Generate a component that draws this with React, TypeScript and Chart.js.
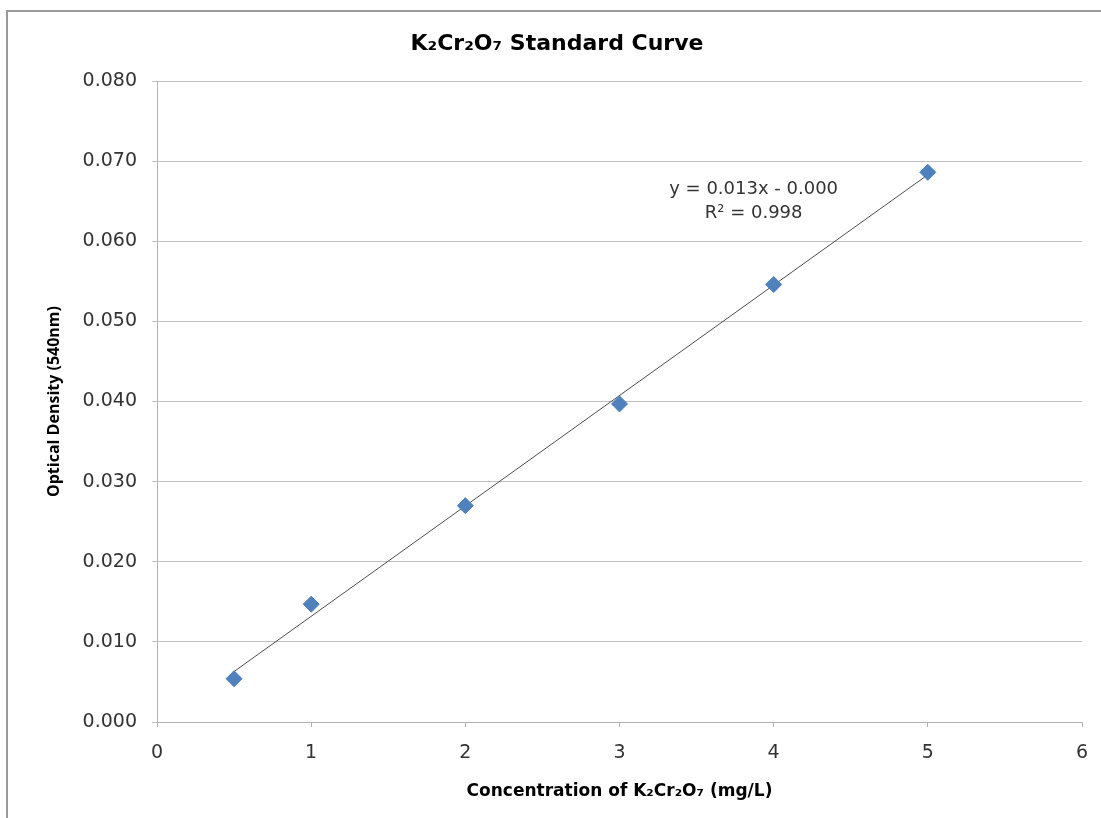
import React, { useEffect, useRef } from "react";
import { Chart, registerables } from "chart.js";

Chart.register(...registerables);

// ---- data ----
const concentrations = [0.5, 1, 2, 3, 4, 5];
const opticalDensity = [0.0054, 0.0147, 0.027, 0.0397, 0.0546, 0.0686];
const trendX = [0.5, 5];
const trendY = [0.0063, 0.0683];
const equationLines = ["y = 0.013x - 0.000", "R\u00B2 = 0.998"];
const chartTitle = "K\u2082Cr\u2082O\u2087 Standard Curve";
const xTitle = "Concentration of K\u2082Cr\u2082O\u2087 (mg/L)";
const yTitle = "Optical Density (540nm)";

const SANS = "'DejaVu Sans', sans-serif";

const equationPlugin = {
  id: "equationLabel",
  afterDatasetsDraw(chart: any) {
    const { ctx, scales } = chart;
    const x = scales.x.getPixelForValue(3.87);
    const anchors = [0.0665, 0.0635];
    ctx.save();
    ctx.font = "18px " + SANS;
    ctx.fillStyle = "#333333";
    ctx.textAlign = "center";
    ctx.textBaseline = "middle";
    equationLines.forEach((t, i) => {
      ctx.fillText(t, x, scales.y.getPixelForValue(anchors[i]));
    });
    ctx.restore();
  },
};

export default function App() {
  const ref = useRef<HTMLCanvasElement>(null);

  useEffect(() => {
    if (!ref.current) return;
    const chart = new Chart(ref.current, {
      type: "scatter",
      data: {
        datasets: [
          {
            label: "OD",
            data: concentrations.map((c, i) => ({ x: c, y: opticalDensity[i] })),
            pointStyle: "rectRot",
            pointRadius: 8,
            pointHoverRadius: 8,
            backgroundColor: "#4F81BD",
            borderColor: "#4A7EBB",
            borderWidth: 1,
            order: 0,
          },
          {
            type: "line",
            label: "Trend",
            data: trendX.map((c, i) => ({ x: c, y: trendY[i] })),
            showLine: true,
            borderColor: "#4d4d4d",
            borderWidth: 1,
            pointRadius: 0,
            fill: false,
            order: 1,
          } as any,
        ],
      },
      options: {
        responsive: false,
        animation: false,
        layout: { padding: { left: 32, right: 19, top: 0, bottom: 0 } },
        plugins: {
          legend: { display: false },
          tooltip: { enabled: false },
          title: {
            display: true,
            text: chartTitle,
            color: "#000000",
            font: { family: SANS, size: 22, weight: "bold" },
            padding: { top: 31, bottom: 23.6 },
          },
        },
        scales: {
          x: {
            type: "linear",
            min: 0,
            max: 6,
            ticks: {
              stepSize: 1,
              color: "#333333",
              padding: 15,
              font: { family: SANS, size: 19 },
              callback: (v: any) => String(v),
            },
            grid: {
              drawOnChartArea: false,
              drawTicks: true,
              tickLength: 5,
              color: "#b3b3b3",
            },
            border: { color: "#b3b3b3", width: 1 },
            title: {
              display: true,
              text: xTitle,
              color: "#000000",
              font: { family: SANS, size: 17, weight: "bold" },
              padding: { top: 0, bottom: 16.3 },
            },
            afterFit: (scale: any) => {
              scale.height = 96;
              scale.paddingRight = 0;
              scale.paddingLeft = 0;
            },
          },
          y: {
            type: "linear",
            min: 0,
            max: 0.08,
            ticks: {
              stepSize: 0.01,
              color: "#333333",
              padding: 15,
              font: { family: SANS, size: 19 },
              callback: (v: any) => Number(v).toFixed(3),
            },
            grid: {
              color: "#bfbfbf",
              tickLength: 5,
              drawTicks: true,
            },
            border: { color: "#b3b3b3", width: 1 },
            title: {
              display: true,
              text: yTitle,
              color: "#000000",
              font: { family: "'Open Sans', sans-serif", size: 16, weight: "bold" },
              padding: { top: 12.4, bottom: 0 },
            },
            afterFit: (scale: any) => {
              scale.width = 125;
              scale.paddingTop = 0;
              scale.paddingBottom = 0;
            },
          },
        },
      },
      plugins: [equationPlugin],
    });
    return () => chart.destroy();
  }, []);

  return (
    <div
      style={{
        position: "absolute",
        left: 0,
        top: 0,
        width: 1101,
        height: 818,
        overflow: "hidden",
        background: "#ffffff",
      }}
    >
      <div
        style={{
          position: "absolute",
          left: 6,
          top: 10,
          width: 1300,
          height: 1100,
          border: "2px solid #9a9a9a",
          pointerEvents: "none",
        }}
      />
      <canvas
        ref={ref}
        width={1101}
        height={818}
        style={{ position: "absolute", left: 0, top: 0, width: 1101, height: 818 }}
      />
    </div>
  );
}
